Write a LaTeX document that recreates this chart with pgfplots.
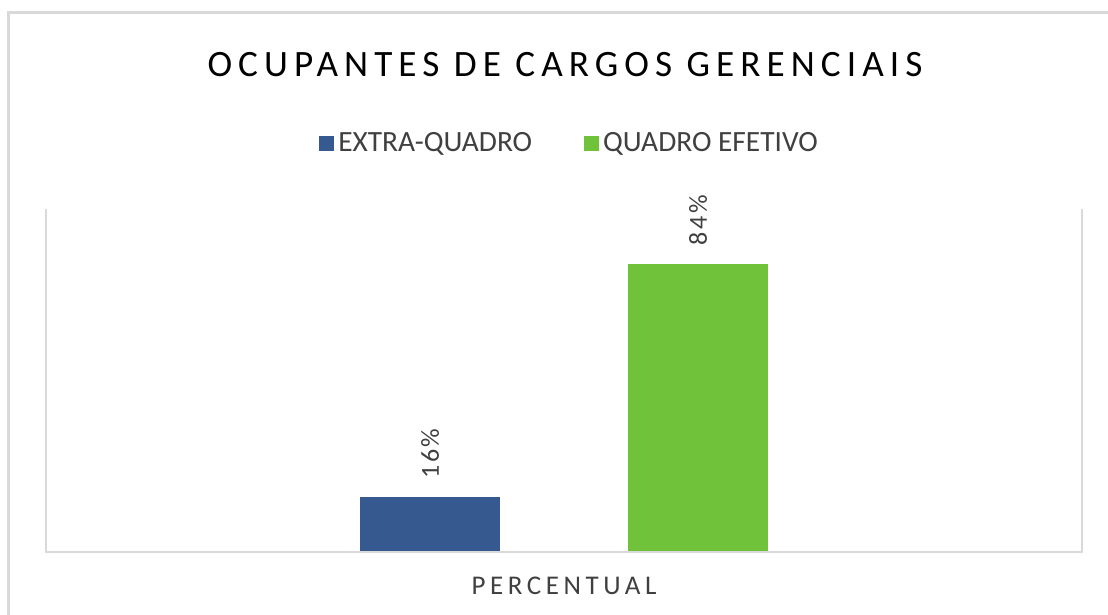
\documentclass[border=0pt]{standalone}
\usepackage{fontspec}
\setmainfont{Carlito}
\newfontfamily\titlefont[LetterSpace=16.3]{Carlito}
\newfontfamily\catfont[LetterSpace=17]{Carlito}
\newfontfamily\valfont[LetterSpace=10]{Carlito}
\usepackage{pgfplots}
\pgfplotsset{compat=1.18}
\definecolor{extraq}{HTML}{365A90}
\definecolor{efetivo}{HTML}{70C23A}
\definecolor{framegray}{HTML}{D9D9D9}
\definecolor{txt}{HTML}{404040}

\begin{document}
\begin{tikzpicture}
\path[use as bounding box] (0,0) rectangle (554pt,307.5pt);
\draw[framegray, line width=1.5pt] (4.25pt,0pt) -- (4.25pt,301.25pt) -- (554pt,301.25pt);
\node[anchor=base, inner sep=0pt, font=\titlefont\fontsize{18.6}{22}\selectfont] at (282.5pt,269pt) {OCUPANTES DE CARGOS GERENCIAIS};
\begin{axis}[
    at={(23pt,31.5pt)}, anchor=south west,
    scale only axis, width=518pt, height=171.5pt,
    xmin=-1, xmax=1, ymin=0, ymax=100,
    axis line style={draw=none},
    ytick=\empty,
    xtick={0}, xticklabels={PERCENTUAL},
    major tick length=0pt,
    xticklabel style={anchor=base, inner sep=0pt, yshift=-21.5pt,
        font=\catfont\fontsize{13.5}{16}\selectfont, text=txt},
    clip=false,
    legend style={at={(0.5063,1.19)}, anchor=center, draw=none,
        legend columns=2, font=\fontsize{14.7}{17}\selectfont, text=txt,
        /tikz/every even column/.append style={column sep=24pt}},
    legend image code/.code={\fill[#1] (0pt,-3.75pt) rectangle (7.5pt,3.75pt);},
    nodes near coords={\pgfmathprintnumber[assume math mode=true]{\pgfplotspointmeta}\%},
    every node near coord/.append style={yshift=9pt, rotate=90, anchor=west,
        inner sep=0pt, font=\valfont\fontsize{13}{15}\selectfont, text=txt},
]
\addplot[ybar, bar width=0.2703, bar shift=0pt, fill=extraq, draw=none]
    coordinates {(-0.2587,16)};
\addlegendentry{EXTRA-QUADRO}
\addplot[ybar, bar width=0.2703, bar shift=0pt, fill=efetivo, draw=none]
    coordinates {(0.2587,84)};
\addlegendentry{QUADRO EFETIVO}
\draw[framegray, line width=0.8pt] (rel axis cs:0,1) -- (rel axis cs:0,0)
    -- (rel axis cs:1,0) -- (rel axis cs:1,1);
\end{axis}
\end{tikzpicture}
\end{document}
